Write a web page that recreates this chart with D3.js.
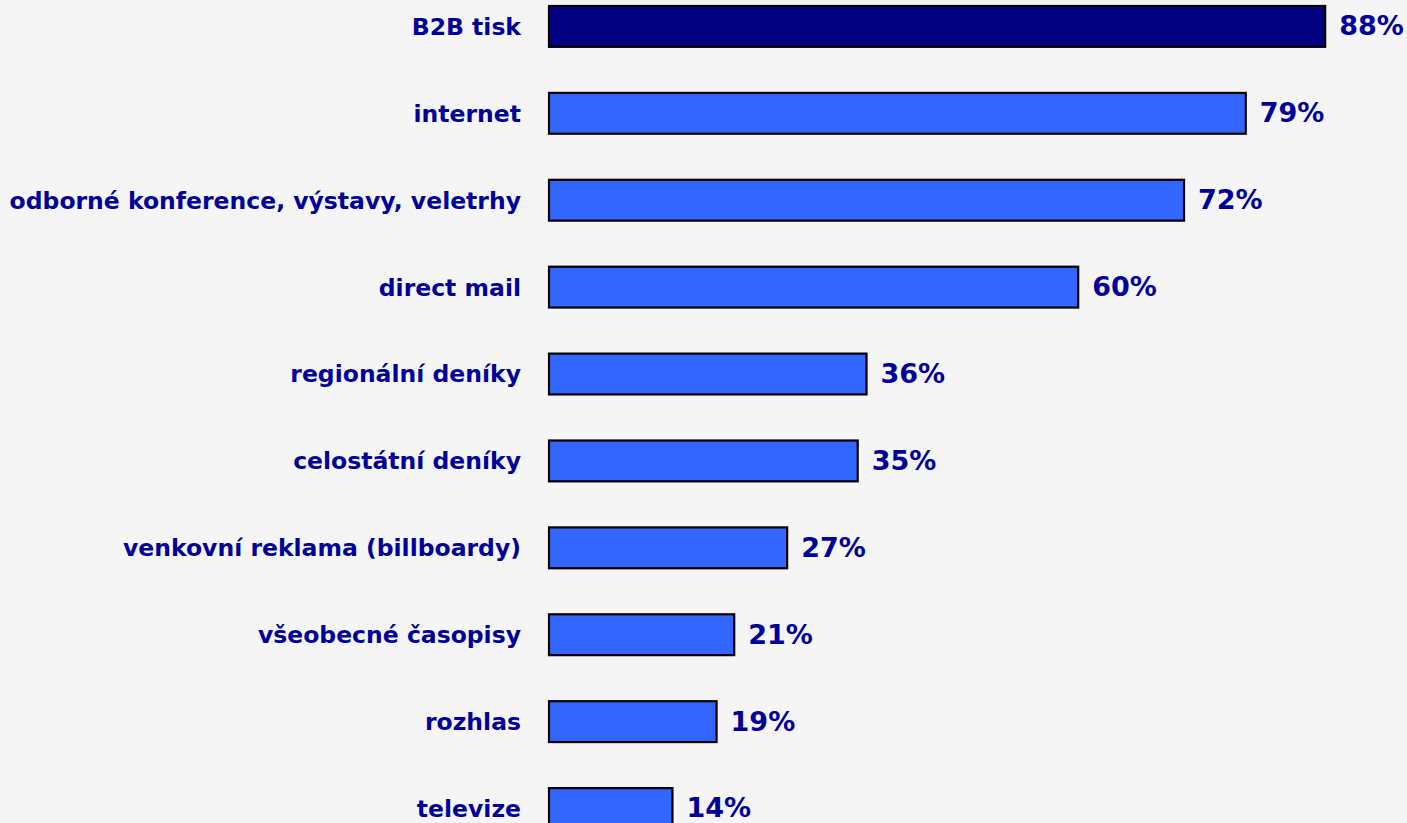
<!DOCTYPE html>
<html>
<head>
<meta charset="utf-8">
<script src="https://cdn.jsdelivr.net/npm/d3@7"></script>
<style>
  html, body { margin: 0; padding: 0; background: #f5f5f5; }
  svg { display: block; }
</style>
</head>
<body>
<svg id="chart" width="1407" height="823"></svg>
<script>
const categories = [
  "B2B tisk",
  "internet",
  "odborné konference, výstavy, veletrhy",
  "direct mail",
  "regionální deníky",
  "celostátní deníky",
  "venkovní reklama (billboardy)",
  "všeobecné časopisy",
  "rozhlas",
  "televize"
];
const values = [88, 79, 72, 60, 36, 35, 27, 21, 19, 14];
const valueLabels = ["88%", "79%", "72%", "60%", "36%", "35%", "27%", "21%", "19%", "14%"];
const highlighted = ["B2B tisk"];

const svg = d3.select("#chart");
const W = 1407, H = 823;

svg.append("rect").attr("width", W).attr("height", H).attr("fill", "#f5f5f5");

const x = d3.scaleLinear().domain([0, 100]).range([549, 549 + 882]);
const y = d3.scaleBand().domain(categories).range([6, 6 + 86.9 * 9.47]).paddingInner(0.53).paddingOuter(0);

const data = categories.map((c, i) => ({ cat: c, value: values[i], label: valueLabels[i] }));

const g = svg.append("g");

g.selectAll("rect.bar").data(data).enter().append("rect")
  .attr("class", "bar")
  .attr("x", x(0))
  .attr("y", d => y(d.cat))
  .attr("width", d => x(d.value) - x(0))
  .attr("height", y.bandwidth())
  .attr("fill", d => highlighted.includes(d.cat) ? "#000080" : "#3366ff")
  .attr("stroke", "#000")
  .attr("stroke-width", 2.2);

g.selectAll("text.val").data(data).enter().append("text")
  .attr("class", "val")
  .attr("x", d => x(d.value) + 14)
  .attr("y", d => y(d.cat) + y.bandwidth() / 2)
  .attr("dy", "0.33em")
  .attr("fill", "#000099")
  .attr("font-family", "DejaVu Sans")
  .attr("font-weight", "bold")
  .attr("font-size", 27)
  .text(d => d.label);

g.selectAll("text.cat").data(data).enter().append("text")
  .attr("class", "cat")
  .attr("x", 521)
  .attr("y", d => y(d.cat) + y.bandwidth() / 2)
  .attr("dy", "0.36em")
  .attr("text-anchor", "end")
  .attr("fill", "#000099")
  .attr("font-family", "DejaVu Sans")
  .attr("font-weight", "bold")
  .attr("font-size", 23.5)
  .text(d => d.cat);
</script>
</body>
</html>
